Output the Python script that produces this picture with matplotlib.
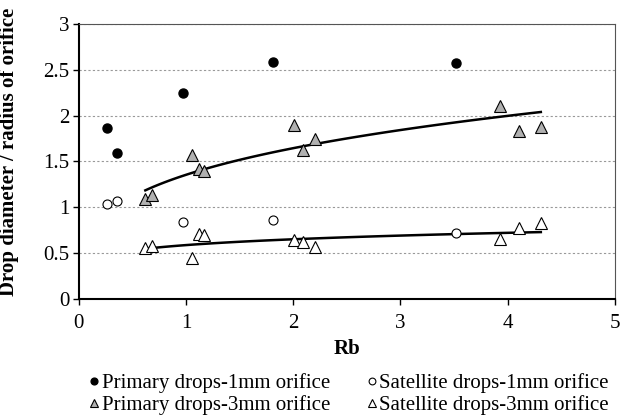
import matplotlib.pyplot as plt
import numpy as np

plt.rcParams['font.family'] = ['Liberation Serif', 'DejaVu Serif']

# drop size data vs Rb
rb_1mm = [0.26, 0.36, 0.97, 1.81, 3.52]
primary_1mm = [1.87, 1.59, 2.25, 2.59, 2.57]
satellite_1mm = [1.04, 1.07, 0.84, 0.86, 0.72]

rb_3mm = [0.62, 0.68, 1.06, 1.12, 1.17, 2.01, 2.09, 2.20, 3.93, 4.11, 4.31]
primary_3mm = [1.09, 1.13, 1.57, 1.42, 1.40, 1.90, 1.62, 1.74, 2.10, 1.83, 1.88]
satellite_3mm = [0.56, 0.58, 0.45, 0.71, 0.70, 0.64, 0.62, 0.57, 0.66, 0.78, 0.83]

fig = plt.figure(figsize=(6.21, 4.2), dpi=100)
ax = fig.add_axes([0.127, 0.288, 0.863, 0.655])

# power-law trendlines for the 3mm orifice series
xs = np.linspace(min(rb_3mm), max(rb_3mm), 100)
for ys in (primary_3mm, satellite_3mm):
    b, loga = np.polyfit(np.log(rb_3mm), np.log(ys), 1)
    ax.plot(xs, np.exp(loga) * xs ** b, color='black', lw=1.8, zorder=2)

h1, = ax.plot(rb_1mm, primary_1mm, 'o', ms=6.5, mfc='black', mec='black',
              ls='none', zorder=3, label='Primary drops-1mm orifice')
h2, = ax.plot(rb_1mm, satellite_1mm, 'o', ms=6.5, mfc='white', mec='black',
              mew=0.8, ls='none', zorder=3, label='Satellite drops-1mm orifice')
h3, = ax.plot(rb_3mm, primary_3mm, '^', ms=8, mfc='#b0b0b0', mec='black',
              mew=0.8, ls='none', zorder=3, label='Primary drops-3mm orifice')
h4, = ax.plot(rb_3mm, satellite_3mm, '^', ms=8, mfc='white', mec='black',
              mew=0.8, ls='none', zorder=3, label='Satellite drops-3mm orifice')

ax.set_xlim(0, 5)
ax.set_ylim(0, 3)
ax.set_xticks([0, 1, 2, 3, 4, 5])
ax.set_yticks([0, 0.5, 1, 1.5, 2, 2.5, 3])
ax.set_yticklabels(['0', '0.5', '1', '1.5', '2', '2.5', '3'])
ax.tick_params(labelsize=15, direction='out', length=4, width=1)
ax.tick_params(axis='x', pad=7)
ax.tick_params(axis='y', pad=3)
ax.yaxis.grid(True, ls=(0, (2, 2)), color='#999999', lw=0.8)
ax.set_axisbelow(True)

for side in ('left', 'bottom'):
    ax.spines[side].set_linewidth(1.5)
for side in ('top', 'right'):
    ax.spines[side].set_linewidth(0.8)
    ax.spines[side].set_color('#555555')

ax.set_xlabel('Rb', fontsize=15, fontweight='bold', labelpad=4)
ax.set_ylabel('Drop diameter / radius of orifice', fontsize=15,
              fontweight='bold')
ax.yaxis.set_label_coords(-0.112, 0.535)

fig.legend(handles=[h1, h3, h2, h4], ncol=2, loc='lower left',
           bbox_to_anchor=(0.114, -0.033), frameon=False, fontsize=15,
           handlelength=0.45, handletextpad=0.15, columnspacing=1.75,
           labelspacing=0.1, markerscale=0.75)

fig.savefig('out.png', dpi=100)
